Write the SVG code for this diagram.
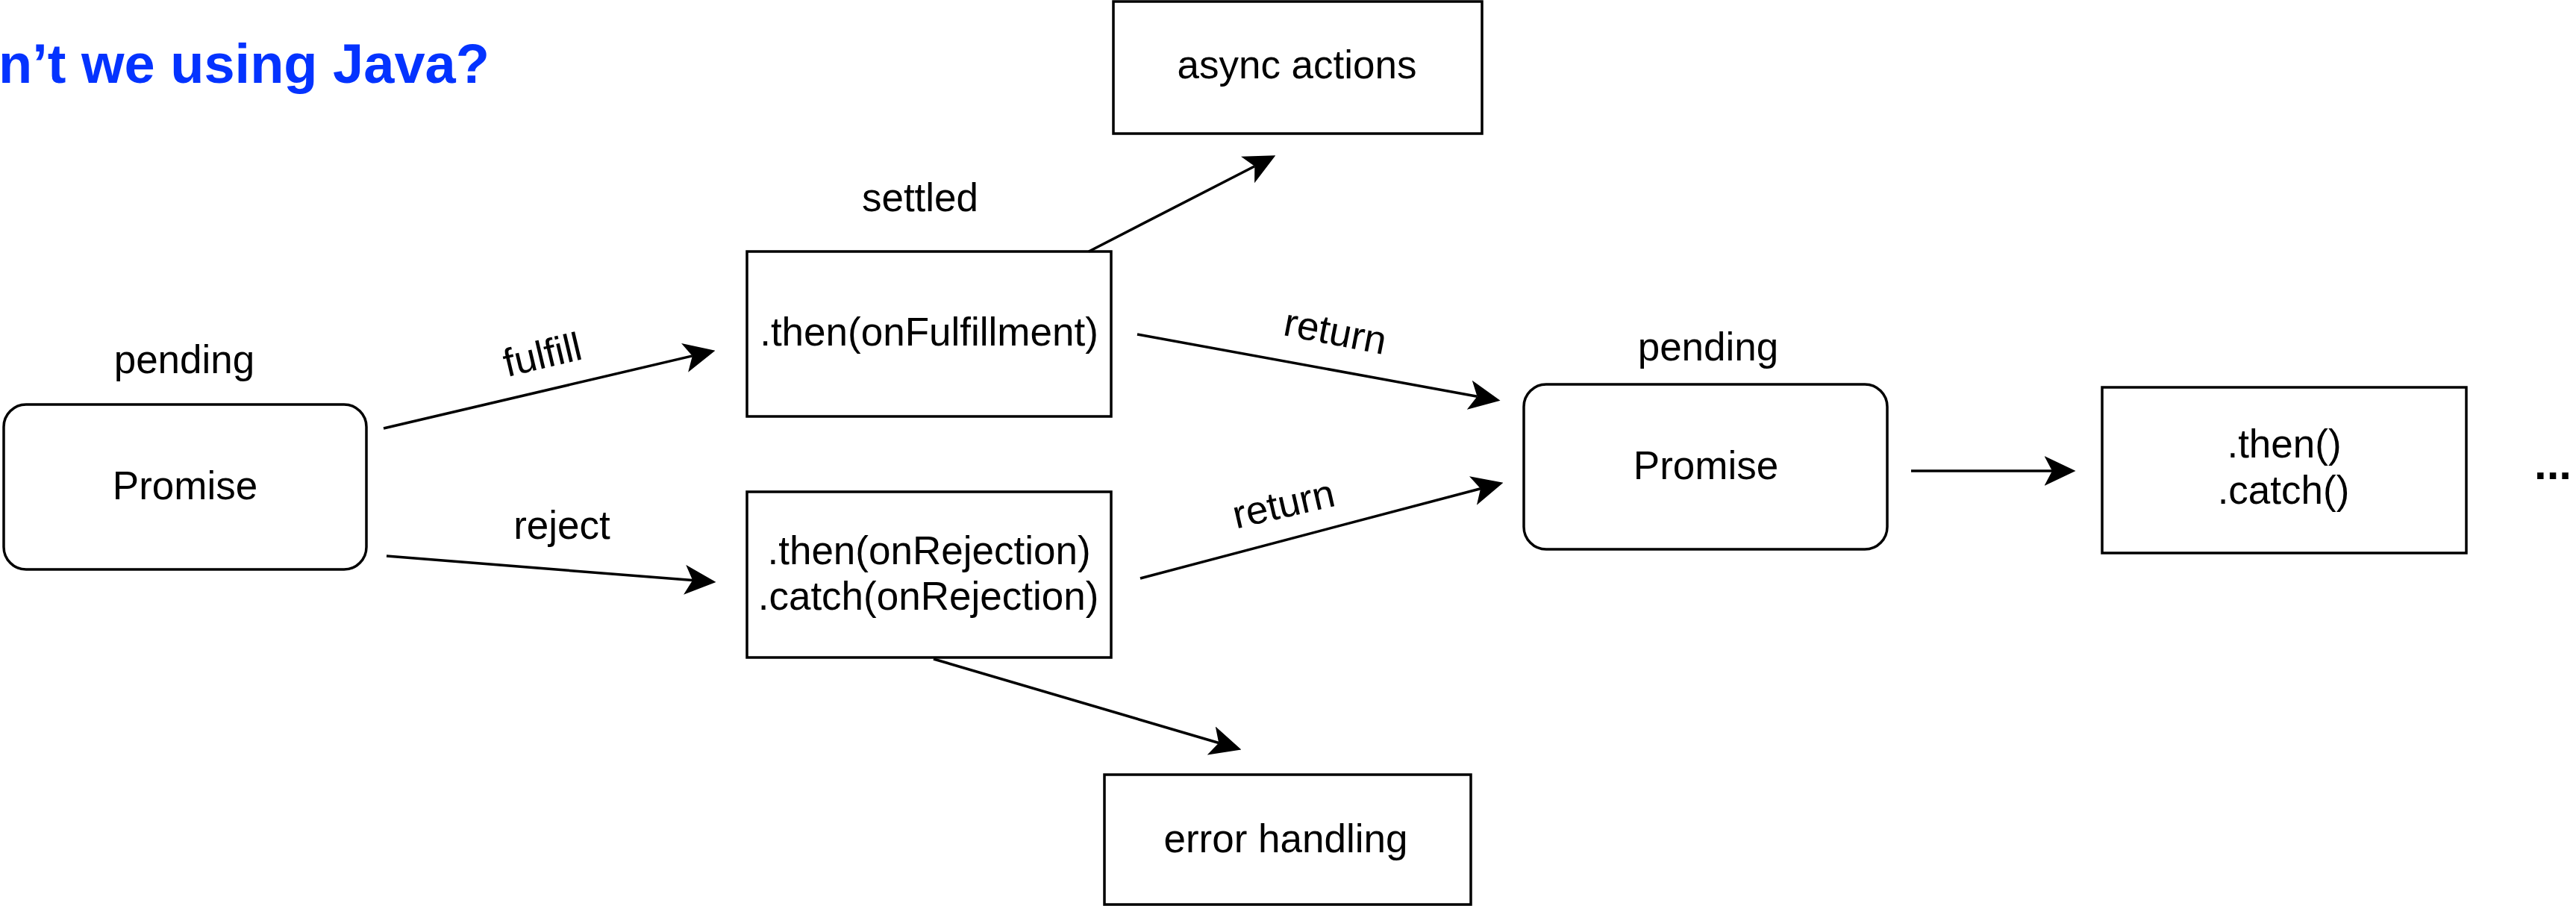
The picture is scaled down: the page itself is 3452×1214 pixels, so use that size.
<svg xmlns="http://www.w3.org/2000/svg" width="3452" height="1214" viewBox="0 0 3452 1214">
  <style>
    .box { fill: #ffffff; stroke: #000000; stroke-width: 3.5; }
    .t { font-family: "Liberation Sans", Arial, sans-serif; font-size: 53px; fill: #000000; text-anchor: middle; }
    .edge { fill: none; stroke: #000000; stroke-width: 3.5; marker-end: url(#arrow); }
    .title { font-family: "Liberation Sans", Arial, sans-serif; font-size: 74px; font-weight: bold; fill: #0433ff; }
  </style>
  <defs>
    <marker id="arrow" markerUnits="userSpaceOnUse" markerWidth="42" markerHeight="40" viewBox="0 0 40 38" refX="10" refY="19" orient="auto">
      <path d="M40,19 L0,0 L10,19 L0,38 Z" fill="#000000"/>
    </marker>
  </defs>
  <rect width="3452" height="1214" fill="#ffffff"/>

  <text class="title" x="-2" y="111">n’t we using Java?</text>

  <g id="promise1">
    <rect class="box" x="5" y="542" width="486" height="221" rx="30" ry="30"/>
    <text class="t" x="248" y="669">Promise</text>
    <text class="t" x="247" y="500">pending</text>
  </g>

  <g id="onFulfillment">
    <rect class="box" x="1001" y="337" width="488" height="221"/>
    <text class="t" x="1245" y="463">.then(onFulfillment)</text>
    <text class="t" x="1233" y="283">settled</text>
  </g>

  <g id="onRejection">
    <rect class="box" x="1001" y="659" width="488" height="222"/>
    <text class="t" x="1245" y="756">.then(onRejection)</text>
    <text class="t" x="1244" y="817">.catch(onRejection)</text>
  </g>

  <g id="async">
    <rect class="box" x="1492" y="2" width="494" height="177"/>
    <text class="t" x="1738" y="105">async actions</text>
  </g>

  <g id="errorHandling">
    <rect class="box" x="1480" y="1038" width="491" height="174"/>
    <text class="t" x="1723" y="1142">error handling</text>
  </g>

  <g id="promise2">
    <rect class="box" x="2042" y="515" width="487" height="221" rx="30" ry="30"/>
    <text class="t" x="2286" y="642">Promise</text>
    <text class="t" x="2289" y="483">pending</text>
  </g>

  <g id="thenCatch">
    <rect class="box" x="2817" y="519" width="488" height="222"/>
    <text class="t" x="3061" y="613">.then()</text>
    <text class="t" x="3060" y="675">.catch()</text>
  </g>

  <g id="ellipsis">
    <text x="3396" y="642" style="font-family: 'Liberation Sans', Arial, sans-serif; font-size: 60px; font-weight: bold; fill: #000;">...</text>
  </g>

  <g id="connectors">
    <line class="edge" x1="514" y1="574" x2="927.8" y2="476.9"/>
    <line class="edge" x1="518" y1="745" x2="928.1" y2="777.6"/>
    <line class="edge" x1="1524" y1="448" x2="1979.5" y2="531.2"/>
    <line class="edge" x1="1528" y1="775" x2="1984" y2="654.7"/>
    <line class="edge" x1="1459" y1="337" x2="1681.3" y2="222.7"/>
    <line class="edge" x1="1251" y1="883" x2="1633.2" y2="995.5"/>
    <line class="edge" x1="2561" y1="631" x2="2750" y2="631"/>
    <text class="t" transform="translate(731,493) rotate(-13.4)">fulfill</text>
    <text class="t" x="753" y="722">reject</text>
    <text class="t" transform="translate(1786,462) rotate(11)">return</text>
    <text class="t" transform="translate(1724,693) rotate(-13)">return</text>
  </g>
</svg>
